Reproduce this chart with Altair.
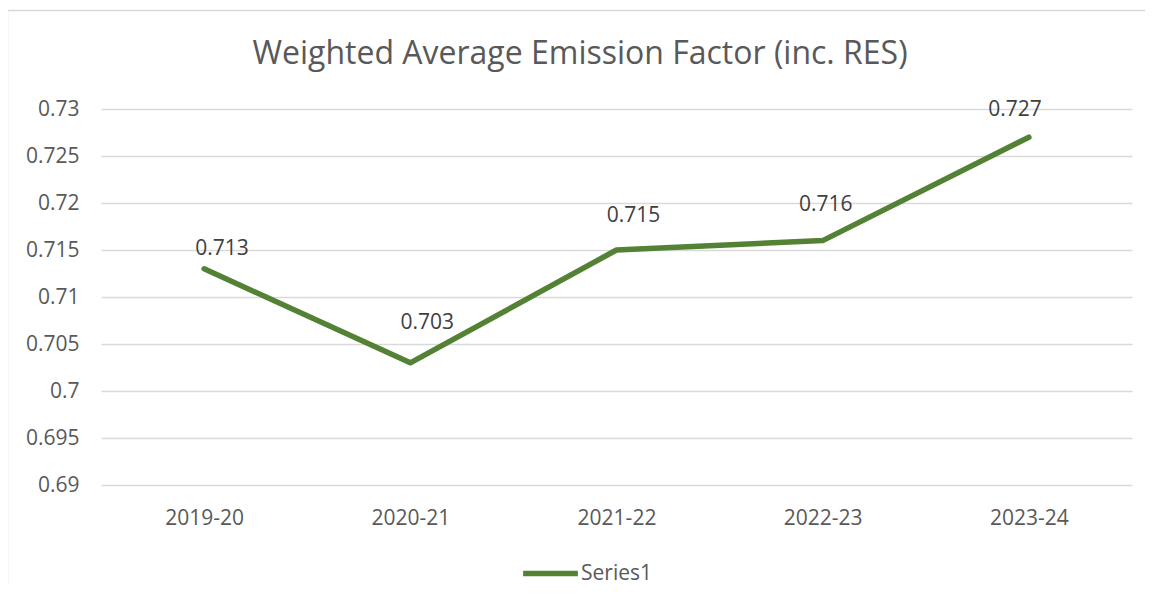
import altair as alt
import pandas as pd

years = ["2019-20", "2020-21", "2021-22", "2022-23", "2023-24"]
values = [0.713, 0.703, 0.715, 0.716, 0.727]
series = ["Series1"] * len(years)
y_ticks = [0.69, 0.695, 0.70, 0.705, 0.71, 0.715, 0.72, 0.725, 0.73]
title_text = "Weighted Average Emission Factor (inc. RES)"

df = pd.DataFrame({"year": years, "value": values, "series": series})

FONT = "Open Sans"
GREEN = "#548235"

x_enc = alt.X("year:N", sort=years, title=None,
              scale=alt.Scale(paddingInner=0, paddingOuter=0),
              axis=alt.Axis(labelAngle=0, ticks=False, domain=False, grid=False,
                            labelFontSize=21, labelColor="#595959", labelFont=FONT,
                            labelPadding=22))
y_enc = alt.Y("value:Q", title=None,
              scale=alt.Scale(domain=[0.69, 0.73], nice=False, zero=False),
              axis=alt.Axis(values=y_ticks, ticks=False, domain=False, grid=True,
                            gridColor="#d9d9d9", gridWidth=1.5,
                            labelFontSize=21, labelColor="#595959", labelFont=FONT,
                            labelPadding=22, labelExpr="format(datum.value, '~g')"))

line = alt.Chart(df).mark_line(strokeWidth=5.5, strokeCap="round", strokeJoin="round").encode(
    x=x_enc, y=y_enc,
    color=alt.Color("series:N", scale=alt.Scale(domain=["Series1"], range=[GREEN]),
                    legend=alt.Legend(title=None, orient="none", legendX=419, legendY=434,
                                      symbolType="stroke", symbolSize=3000,
                                      symbolStrokeWidth=5.5, labelFontSize=21,
                                      labelFont=FONT, labelColor="#595959",
                                      labelOffset=0, padding=0))
)

# per-label placement offsets (Excel labels were hand-positioned)
label_offsets = {
    "2019-20": (18, -20),
    "2020-21": (17, -40),
    "2021-22": (17, -34),
    "2022-23": (3, -36),
    "2023-24": (-14, -27),
}
label_layers = []
for yr in years:
    dx, dy = label_offsets[yr]
    label_layers.append(
        alt.Chart(df).transform_filter(alt.datum.year == yr).mark_text(
            dx=dx, dy=dy, fontSize=21, font=FONT, color="#404040", baseline="middle"
        ).encode(x=alt.X("year:N", sort=years), y="value:Q",
                 text=alt.Text("value:Q", format=".3f"))
    )

border_df = pd.DataFrame({"k": [0]})
top_border = alt.Chart(border_df).mark_rule(color="#d9d9d9", strokeWidth=1.5).encode(
    x=alt.value(-94), x2=alt.value(1060), y=alt.value(-98.5)
)
left_border = alt.Chart(border_df).mark_rule(color="#d9d9d9", strokeWidth=1.5).encode(
    x=alt.value(-93.5), y=alt.value(-98.5), y2=alt.value(500)
)
title = alt.Chart(border_df).mark_text(
    text=title_text, fontSize=32, font=FONT, color="#595959", align="center",
    baseline="alphabetic"
).encode(x=alt.value(479), y=alt.value(-45))

chart = alt.layer(top_border, left_border, title, line, *label_layers).properties(
    width=1031, height=376,
    autosize=alt.AutoSizeParams(type="none"),
    padding={"left": 93, "top": 101, "right": 13, "bottom": 100},
).configure_view(stroke=None)

chart.save("out.html", embed_options={"renderer": "svg", "actions": False})
